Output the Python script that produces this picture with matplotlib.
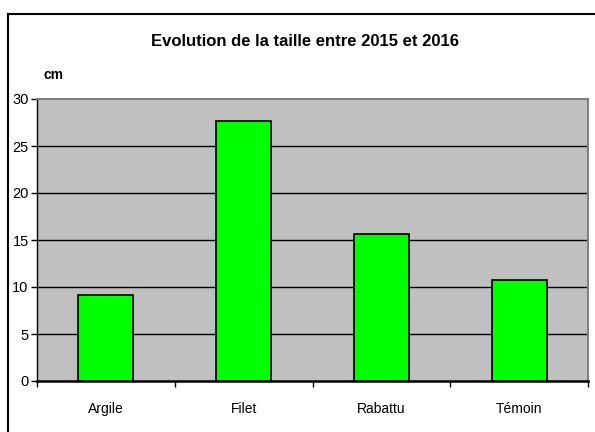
import numpy as np
import matplotlib.pyplot as plt
from matplotlib.lines import Line2D

# data
categories = ["Argile", "Filet", "Rabattu", "Témoin"]
growth_cm = [9.2, 27.7, 15.6, 10.7]
y_ticks = [0, 5, 10, 15, 20, 25, 30]

plt.rcParams["font.family"] = ["Liberation Sans", "DejaVu Sans"]

fig = plt.figure(figsize=(5.95, 4.32), dpi=100)
ax = fig.add_axes([37 / 595, 1 - 381 / 432, 551 / 595, 282 / 432])

x = np.arange(len(categories))
ax.set_facecolor("#c0c0c0")
ax.bar(x, growth_cm, width=0.4, color="#00ff00", edgecolor="black",
       linewidth=1.2, zorder=3)

ax.set_xlim(-0.5, len(categories) - 0.5)
ax.set_ylim(0, 30)
ax.set_yticks(y_ticks)
ax.set_yticklabels([str(t) for t in y_ticks], fontsize=10.5)

# horizontal gridlines, black as in Excel default
for t in y_ticks[1:-1]:
    ax.axhline(t, color="black", linewidth=1.0, zorder=1)

# category labels centered, tick marks between categories
ax.set_xticks(x)
ax.set_xticklabels(categories, fontsize=10)
ax.tick_params(axis="x", which="major", length=0, pad=15)
ax.set_xticks(np.arange(-0.5, len(categories)), minor=True)
ax.tick_params(axis="x", which="minor", length=4, width=1, direction="out")
ax.tick_params(axis="y", length=4, width=1, direction="out", pad=2)

ax.spines["bottom"].set_linewidth(1.8)
ax.spines["left"].set_linewidth(1.0)
ax.spines["top"].set_color("#808080")
ax.spines["top"].set_linewidth(1.5)
ax.spines["right"].set_color("#808080")
ax.spines["right"].set_linewidth(1.5)

fig.text(305 / 595, 1 - 41 / 432, "Evolution de la taille entre 2015 et 2016",
         ha="center", va="center", fontsize=12, fontweight="bold")
fig.text(43 / 595, 1 - 75 / 432, "cm", ha="left", va="center",
         fontsize=10, fontweight="bold")

# chart frame (open at right and bottom edges like the reference crop)
fig.add_artist(Line2D([8 / 595, 1.0], [1 - 14 / 432, 1 - 14 / 432],
                      color="black", linewidth=1.5, transform=fig.transFigure))
fig.add_artist(Line2D([8 / 595, 8 / 595], [0.0, 1 - 14 / 432],
                      color="black", linewidth=1.5, transform=fig.transFigure))

fig.savefig("out.png", dpi=100)
